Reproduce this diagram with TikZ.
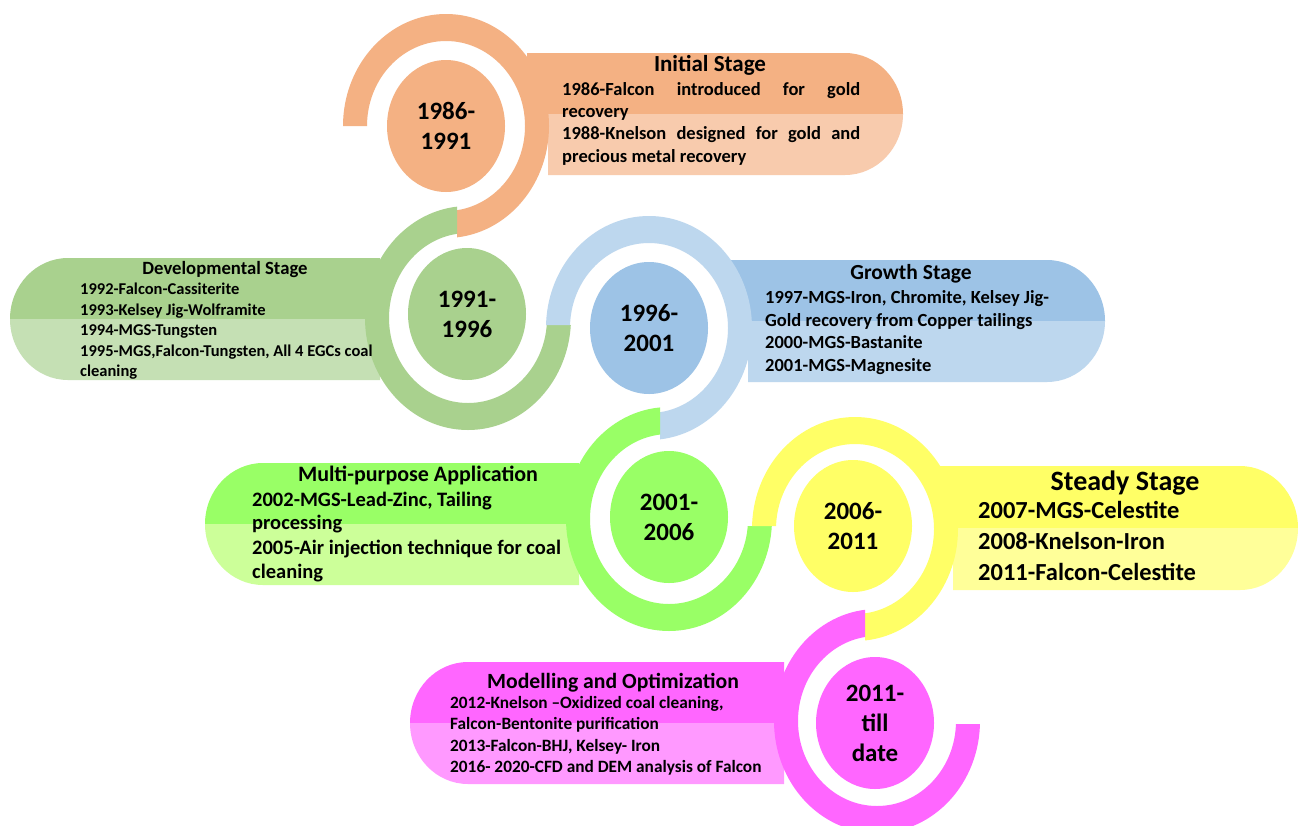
\documentclass[tikz,border=0pt]{standalone}
\usepackage{fontspec}
\setmainfont{Carlito}
\usetikzlibrary{shapes.geometric}
\definecolor{orA}{HTML}{F4B183}
\definecolor{orB}{HTML}{F8CBAD}
\definecolor{grA}{HTML}{A9D18E}
\definecolor{grB}{HTML}{C5E0B4}
\definecolor{blR}{HTML}{BDD7EE}
\definecolor{blA}{HTML}{9DC3E6}
\definecolor{blB}{HTML}{BDD7EE}
\definecolor{liA}{HTML}{99FF66}
\definecolor{liB}{HTML}{CCFF99}
\definecolor{yeA}{HTML}{FFFF66}
\definecolor{yeB}{HTML}{FFFF99}
\definecolor{maA}{HTML}{FF66FF}
\definecolor{maB}{HTML}{FF99FF}
% ring with lower-left quadrant removed: cx, cy, cutX, cutY, colour
\newcommand{\ringLL}[5]{%
  \begin{scope}
    \clip (-50,50) -- (1350,50) -- (1350,-900) -- (#3,-900) -- (#3,#4) -- (-50,#4) -- cycle;
    \fill[#5, even odd rule] (#1,#2) ellipse[x radius=103pt, y radius=112pt]
                             (#1,#2) ellipse[x radius=79pt, y radius=85pt];
  \end{scope}}
% ring with upper-right quadrant removed
\newcommand{\ringUR}[5]{%
  \begin{scope}
    \clip (-50,50) -- (#3,50) -- (#3,#4) -- (1350,#4) -- (1350,-900) -- (-50,-900) -- cycle;
    \fill[#5, even odd rule] (#1,#2) ellipse[x radius=103pt, y radius=112pt]
                             (#1,#2) ellipse[x radius=79pt, y radius=85pt];
  \end{scope}}
\begin{document}
\begin{tikzpicture}[x=1pt,y=1pt,
  disc/.style={ellipse, minimum width=118pt, minimum height=132pt, inner sep=0pt,
               align=center, font=\bfseries\fontsize{25}{30}\selectfont},
  txt/.style={anchor=base west, inner sep=0pt},
  ttl/.style={anchor=base, inner sep=0pt},
  fI/.style={font=\bfseries\fontsize{18.5}{22}\selectfont},
  tI/.style={font=\bfseries\fontsize{23}{26}\selectfont},
  fD/.style={font=\bfseries\fontsize{16.5}{20}\selectfont},
  tD/.style={font=\bfseries\fontsize{18.7}{22}\selectfont},
  fG/.style={font=\bfseries\fontsize{18.5}{22}\selectfont},
  tG/.style={font=\bfseries\fontsize{21.5}{25}\selectfont},
  fM/.style={font=\bfseries\fontsize{20.5}{24}\selectfont},
  tM/.style={font=\bfseries\fontsize{22}{26}\selectfont},
  fS/.style={font=\bfseries\fontsize{24.5}{29}\selectfont},
  tS/.style={font=\bfseries\fontsize{28}{32}\selectfont},
  fO/.style={font=\bfseries\fontsize{17.3}{21}\selectfont},
  tO/.style={font=\bfseries\fontsize{21.7}{25}\selectfont}]
\useasboundingbox (0,0) rectangle (1298,-825);
\fill[white] (0,0) rectangle (1298,-825);

% ---------- pills ----------
% Initial (orange, right)
\fill[orA] (527,-114) -- (527,-53) -- (845,-53) arc[start angle=90, end angle=0, x radius=58pt, y radius=61pt] -- cycle;
\fill[orB] (548,-114) -- (903,-114) arc[start angle=0, end angle=-90, x radius=58pt, y radius=61pt] -- (548,-175) -- cycle;
% Developmental (green, left)
\fill[grA] (380,-319) -- (380,-258) -- (68,-258) arc[start angle=90, end angle=180, x radius=58pt, y radius=61pt] -- cycle;
\fill[grB] (380,-319) -- (10,-319) arc[start angle=180, end angle=270, x radius=58pt, y radius=61pt] -- (380,-380) -- cycle;
% Growth (blue, right)
\fill[blA] (730,-321) -- (730,-260) -- (1047,-260) arc[start angle=90, end angle=0, x radius=58pt, y radius=61pt] -- cycle;
\fill[blB] (748,-321) -- (1105,-321) arc[start angle=0, end angle=-90, x radius=58pt, y radius=61pt] -- (748,-382) -- cycle;
% Multi-purpose (lime, left)
\fill[liA] (579,-524) -- (579,-463) -- (263,-463) arc[start angle=90, end angle=180, x radius=58pt, y radius=61pt] -- cycle;
\fill[liB] (579,-524) -- (205,-524) arc[start angle=180, end angle=270, x radius=58pt, y radius=61pt] -- (579,-585) -- cycle;
% Steady (yellow, right)
\fill[yeA] (937,-528) -- (937,-466) -- (1240,-466) arc[start angle=90, end angle=0, x radius=58pt, y radius=62pt] -- cycle;
\fill[yeB] (953,-528) -- (1298,-528) arc[start angle=0, end angle=-90, x radius=58pt, y radius=62pt] -- (953,-590) -- cycle;
% Modelling (magenta, left)
\fill[maA] (784,-723) -- (784,-662) -- (468,-662) arc[start angle=90, end angle=180, x radius=58pt, y radius=61pt] -- cycle;
\fill[maB] (784,-723) -- (410,-723) arc[start angle=180, end angle=270, x radius=58pt, y radius=61pt] -- (784,-784) -- cycle;

% ---------- rings ----------
\ringLL{446}{-126}{457}{-126}{orA}
\ringUR{468}{-318}{457}{-325}{grA}
\ringLL{649}{-328}{660}{-325}{blR}
\ringUR{669}{-519}{660}{-526}{liA}
\ringLL{855}{-529}{865}{-526}{yeA}
\ringUR{877}{-721}{865}{-724}{maA}

% ---------- discs ----------
\node[disc, fill=orA] (d1) at (446,-126) {1986-\\1991};
\node[disc, fill=grA] (d2) at (467,-314) {1991-\\1996};
\node[disc, fill=blA] (d3) at (649,-328) {1996-\\2001};
\node[disc, fill=liA] (d4) at (669,-517) {2001-\\2006};
\node[disc, fill=yeA] (d5) at (853,-526) {2006-\\2011};
\node[disc, fill=maA] (d6) at (875,-723) {2011-\\till\\date};

% ---------- texts ----------
\node[ttl, tI] (i0) at (710,-71) {Initial Stage};
\node[txt, fI] (i1) at (562,-95) {\makebox[298pt][s]{1986-Falcon introduced for gold}};
\node[txt, fI] (i2) at (562,-117) {recovery};
\node[txt, fI] (i3) at (562,-139) {\makebox[298pt][s]{1988-Knelson designed for gold and}};
\node[txt, fI] (i4) at (562,-162) {precious metal recovery};

\node[ttl, tD] (v0) at (225,-274) {Developmental Stage};
\node[txt, fD] (v1) at (80,-294) {1992-Falcon-Cassiterite};
\node[txt, fD] (v2) at (80,-315) {1993-Kelsey Jig-Wolframite};
\node[txt, fD] (v3) at (80,-335) {1994-MGS-Tungsten};
\node[txt, fD] (v4) at (80,-356) {1995-MGS,Falcon-Tungsten, All 4 EGCs coal};
\node[txt, fD] (v5) at (80,-376) {cleaning};

\node[ttl, tG] (g0) at (911,-279) {Growth Stage};
\node[txt, fG] (g1) at (765,-303) {1997-MGS-Iron, Chromite, Kelsey Jig-};
\node[txt, fG] (g2) at (765,-326) {Gold recovery from Copper tailings};
\node[txt, fG] (g3) at (765,-348) {2000-MGS-Bastanite};
\node[txt, fG] (g4) at (765,-371) {2001-MGS-Magnesite};

\node[ttl, tM] (m0) at (418,-481) {Multi-purpose Application};
\node[txt, fM] (m1) at (252,-506) {2002-MGS-Lead-Zinc, Tailing};
\node[txt, fM] (m2) at (252,-529) {processing};
\node[txt, fM] (m3) at (252,-554) {2005-Air injection technique for coal};
\node[txt, fM] (m4) at (252,-578) {cleaning};

\node[ttl, tS] (s0) at (1125,-490) {Steady Stage};
\node[txt, fS] (s1) at (978,-518) {2007-MGS-Celestite};
\node[txt, fS] (s2) at (978,-549) {2008-Knelson-Iron};
\node[txt, fS] (s3) at (978,-580) {2011-Falcon-Celestite};

\node[ttl, tO] (o0) at (613,-688) {Modelling and Optimization};
\node[txt, fO] (o1) at (450,-708) {2012-Knelson –Oxidized coal cleaning,};
\node[txt, fO] (o2) at (450,-729) {Falcon-Bentonite purification};
\node[txt, fO] (o3) at (450,-751) {2013-Falcon-BHJ, Kelsey- Iron};
\node[txt, fO] (o4) at (450,-772) {2016- 2020-CFD and DEM analysis of Falcon};
\end{tikzpicture}
\end{document}
